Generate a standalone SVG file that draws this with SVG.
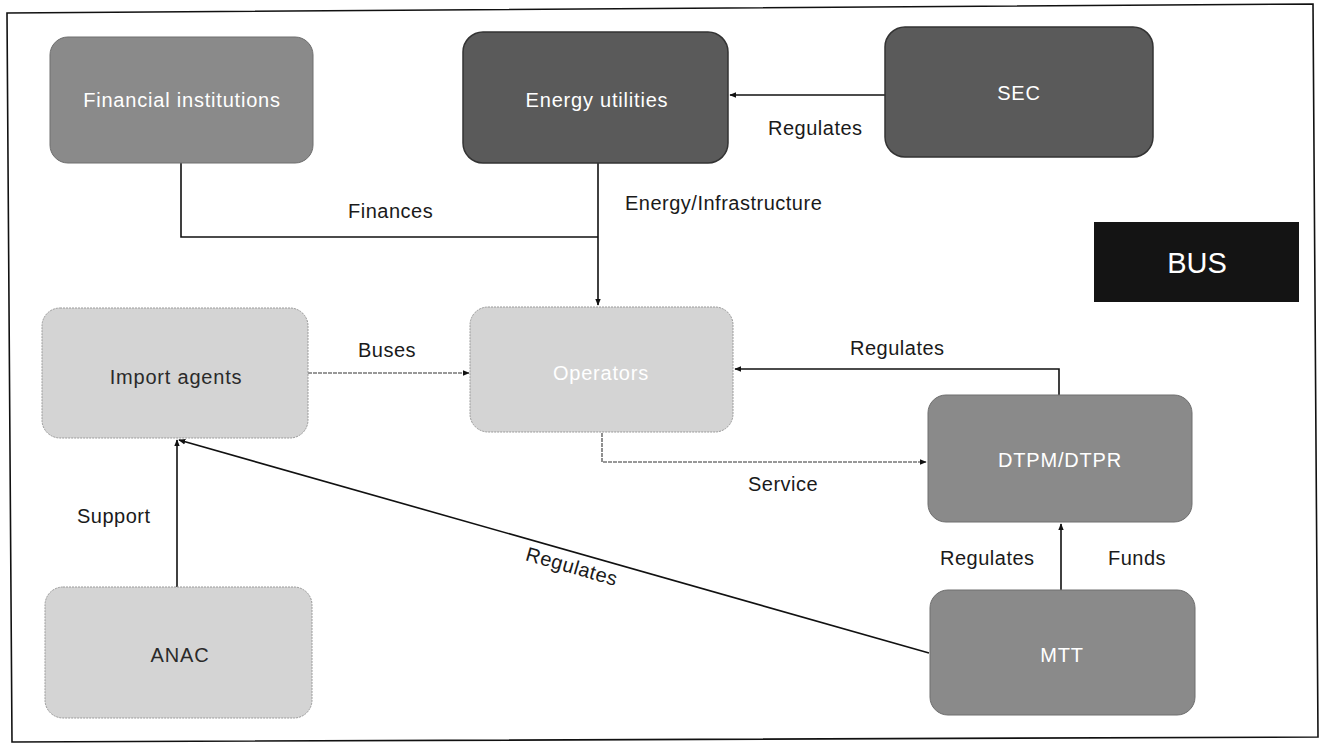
<svg xmlns="http://www.w3.org/2000/svg" width="1322" height="744" viewBox="0 0 1322 744">
<style>
.node text{font-family:"Liberation Sans",Arial,sans-serif;font-size:20px;letter-spacing:0.8px;text-anchor:middle;dominant-baseline:central}
.lt{fill:#d4d4d4;stroke:#9a9a9a;stroke-width:1;stroke-dasharray:2 1}
.md{fill:#8a8a8a;stroke:#6e6e6e;stroke-width:1}
.dk{fill:#5a5a5a;stroke:#333;stroke-width:1.5}
.wt{fill:#ffffff}
.bk{fill:#2a2a2a}
.lbl{font-family:"Liberation Sans",Arial,sans-serif;font-size:20px;letter-spacing:0.5px;fill:#1a1a1a}
.con path{fill:none;stroke:#111;stroke-width:1.6}
.con .thin{stroke:#333;stroke-width:1.1;stroke-dasharray:4 1}
</style>
<defs>
<marker id="ah" viewBox="0 0 10 10" refX="9" refY="5" markerWidth="7" markerHeight="7" orient="auto-start-reverse" markerUnits="userSpaceOnUse">
<path d="M0,1 L10,5 L0,9 z" fill="#111"/>
</marker>
</defs>
<rect width="1322" height="744" fill="#ffffff"/>
<polygon points="7,13 1313,4 1318,737 12,742" fill="none" stroke="#111" stroke-width="1.6"/>

<g class="con">
<path d="M181,163 V237 H598"/>
<path d="M598,163 V305" marker-end="url(#ah)"/>
<path d="M885,95 H730" marker-end="url(#ah)"/>
<path class="thin" d="M308,373 H469" marker-end="url(#ah)"/>
<path d="M1059,395 V369 H735" marker-end="url(#ah)"/>
<path class="thin" d="M602,433 V462 H926" marker-end="url(#ah)"/>
<path d="M1061,590 V524" marker-end="url(#ah)"/>
<path d="M177,587 V440" marker-end="url(#ah)"/>
<path d="M929,653 L179,440" marker-end="url(#ah)"/>
</g>

<g id="financial-institutions" class="node">
<rect class="md" x="50" y="37" width="263" height="126" rx="18"/>
<text class="wt" x="182" y="100">Financial institutions</text>
</g>
<g id="energy-utilities" class="node">
<rect class="dk" x="463" y="32" width="265" height="131" rx="20"/>
<text class="wt" x="597" y="100">Energy utilities</text>
</g>
<g id="sec" class="node">
<rect class="dk" x="885" y="27" width="268" height="130" rx="20"/>
<text class="wt" x="1019" y="93">SEC</text>
</g>
<g id="bus" class="node">
<rect x="1094" y="222" width="205" height="80" fill="#141414"/>
<text x="1197" y="263" fill="#ffffff" style="font-size:29px;letter-spacing:0">BUS</text>
</g>
<g id="import-agents" class="node">
<rect class="lt" x="42" y="308" width="266" height="130" rx="18"/>
<text class="bk" x="176" y="377">Import agents</text>
</g>
<g id="operators" class="node">
<rect class="lt" x="470" y="307" width="263" height="125" rx="18"/>
<text class="wt" x="601" y="373">Operators</text>
</g>
<g id="dtpm-dtpr" class="node">
<rect class="md" x="928" y="395" width="264" height="127" rx="18"/>
<text class="wt" x="1060" y="460">DTPM/DTPR</text>
</g>
<g id="anac" class="node">
<rect class="lt" x="45" y="587" width="267" height="131" rx="18"/>
<text class="bk" x="180" y="655">ANAC</text>
</g>
<g id="mtt" class="node">
<rect class="md" x="930" y="590" width="265" height="125" rx="18"/>
<text class="wt" x="1062" y="655">MTT</text>
</g>

<g id="labels">
<text class="lbl" x="348" y="218">Finances</text>
<text class="lbl" x="625" y="210">Energy/Infrastructure</text>
<text class="lbl" x="768" y="135">Regulates</text>
<text class="lbl" x="358" y="357">Buses</text>
<text class="lbl" x="850" y="355">Regulates</text>
<text class="lbl" x="748" y="491">Service</text>
<text class="lbl" x="940" y="565">Regulates</text>
<text class="lbl" x="1108" y="565">Funds</text>
<text class="lbl" x="77" y="523">Support</text>
<text class="lbl" transform="translate(570,573) rotate(16)" text-anchor="middle">Regulates</text>
</g>
</svg>
